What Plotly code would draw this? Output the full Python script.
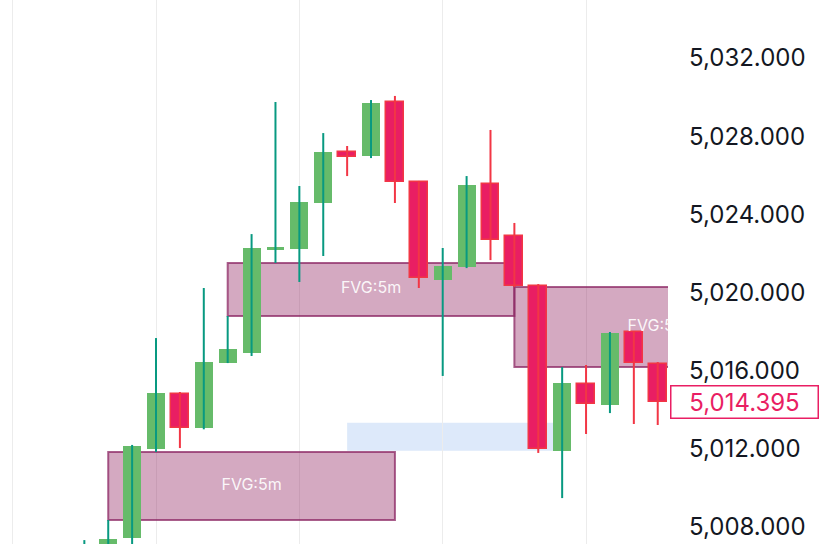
import plotly.graph_objects as go

# velas de 5 minutos (indice de vela en el eje x)
velas = list(range(0, 25))
apertura = [5006.0, 5006.6, 5007.42, 5011.99, 5014.80, 5013.06, 5016.39, 5016.90, 5022.22, 5022.23,
            5024.58, 5027.19, 5026.98, 5029.75, 5025.65, 5020.64, 5021.30, 5025.55, 5022.89, 5020.33,
            5011.89, 5015.32, 5014.24, 5017.98, 5016.34]
maximo = [5007.33, 5008.36, 5012.20, 5017.67, 5014.91, 5020.23, 5018.80, 5022.99, 5029.75, 5025.45,
          5028.16, 5027.50, 5029.85, 5030.06, 5025.71, 5022.28, 5025.96, 5028.32, 5023.56, 5020.43,
          5016.19, 5016.29, 5017.98, 5018.03, 5016.44]
minimo = [5005.5, 5006.3, 5006.8, 5011.84, 5012.04, 5013.00, 5016.39, 5016.75, 5021.51, 5020.54,
          5021.87, 5025.96, 5026.88, 5024.58, 5020.23, 5015.73, 5021.25, 5021.66, 5020.28, 5011.79,
          5009.48, 5012.76, 5013.83, 5013.27, 5013.22]
cierre = [5006.6, 5007.38, 5012.14, 5014.86, 5013.06, 5016.44, 5017.11, 5022.28, 5022.32, 5024.63,
          5027.19, 5026.93, 5029.70, 5025.65, 5020.74, 5021.36, 5025.50, 5022.69, 5020.33, 5011.99,
          5015.37, 5014.29, 5017.93, 5016.39, 5014.395]

# zonas FVG (inicio, fin en velas; precios)
fvg_inicio = [1, 6, 18]
fvg_fin = [13, 18, 30]
fvg_arriba = [5011.84, 5021.51, 5020.28]
fvg_abajo = [5008.36, 5018.80, 5016.19]
fvg_texto = ["FVG:5m", "FVG:5m", "FVG:5m"]

# zona azul
zona_x = [11, 20]
zona_y = [5011.90, 5013.33]

precio_actual = 5014.395
ticks_y = [5008, 5012, 5016, 5020, 5024, 5028, 5032]
ticks_grid = [-3, 3, 9, 15, 21]

VERDE = '#66bb6a'
VERDE_MECHA = '#089981'
ROJO = '#e91e63'
ROJO_BORDE = '#f23645'

fig = go.Figure()

# Mechas
for sube, color in [(True, VERDE_MECHA), (False, ROJO_BORDE)]:
    xs, ys = [], []
    for i in velas:
        if (cierre[i] >= apertura[i]) == sube:
            xs += [i, i, None]
            ys += [minimo[i], maximo[i], None]
    fig.add_trace(go.Scatter(x=xs, y=ys, mode='lines',
                             line=dict(color=color, width=2), hoverinfo='skip'))

# Cuerpos
for sube, color, borde, ancho in [(True, VERDE, VERDE, 0), (False, ROJO, ROJO_BORDE, 1.5)]:
    idx = [i for i in velas if (cierre[i] >= apertura[i]) == sube]
    fig.add_trace(go.Bar(
        x=idx,
        y=[abs(cierre[i] - apertura[i]) for i in idx],
        base=[min(cierre[i], apertura[i]) for i in idx],
        width=0.75,
        marker=dict(color=color, line=dict(color=borde, width=ancho)),
        hoverinfo='skip'
    ))

# Zonas FVG
for x0, x1, y1, y0 in zip(fvg_inicio, fvg_fin, fvg_arriba, fvg_abajo):
    fig.add_shape(type='rect', x0=x0, x1=x1, y0=y0, y1=y1, layer='between',
                  fillcolor='rgba(148,40,100,0.4)',
                  line=dict(color='rgba(140,40,100,0.75)', width=2))

fig.add_shape(type='rect', x0=zona_x[0], x1=zona_x[1], y0=zona_y[0], y1=zona_y[1],
              layer='below', fillcolor='#dde9fa', line=dict(width=0))

# Etiquetas FVG (recortadas por el area del grafico)
fig.add_trace(go.Scatter(
    x=[(a + b) / 2 for a, b in zip(fvg_inicio, fvg_fin)],
    y=[(a + b) / 2 for a, b in zip(fvg_arriba, fvg_abajo)],
    mode='text', text=fvg_texto, cliponaxis=True,
    textfont=dict(family='Inter', size=16, color='rgba(255,255,255,0.92)'),
    hoverinfo='skip'
))

# Precio actual
fig.add_annotation(
    xref='paper', yref='y', x=1, y=precio_actual, xanchor='left', xshift=2,
    text=f"{precio_actual:,.3f}", showarrow=False,
    font=dict(family='Inter', size=24, color=ROJO),
    bgcolor='white', bordercolor=ROJO, borderwidth=1.5, borderpad=2,
    width=142, height=27
)

fig.update_layout(
    width=828, height=544,
    margin=dict(l=0, r=160, t=0, b=0),
    paper_bgcolor='white', plot_bgcolor='white',
    showlegend=False, barmode='overlay', bargap=0,
    xaxis=dict(range=[-3.53, 24.43], tickvals=ticks_grid, showticklabels=False,
               showgrid=True, gridcolor='#ececec', gridwidth=1, zeroline=False,
               showline=False, fixedrange=True),
    yaxis=dict(range=[5007.13, 5034.97], side='right', tickvals=ticks_y,
               tickformat=',.3f', showgrid=False, zeroline=False, showline=False,
               ticks='', ticklabelstandoff=20, automargin=False,
               tickfont=dict(family='Inter', size=24, color='#131722'))
)

# sin margen del body para que la figura ocupe toda la ventana
fig.write_html("out.html", config={'displayModeBar': False},
               post_script="document.body.style.margin='0';")
